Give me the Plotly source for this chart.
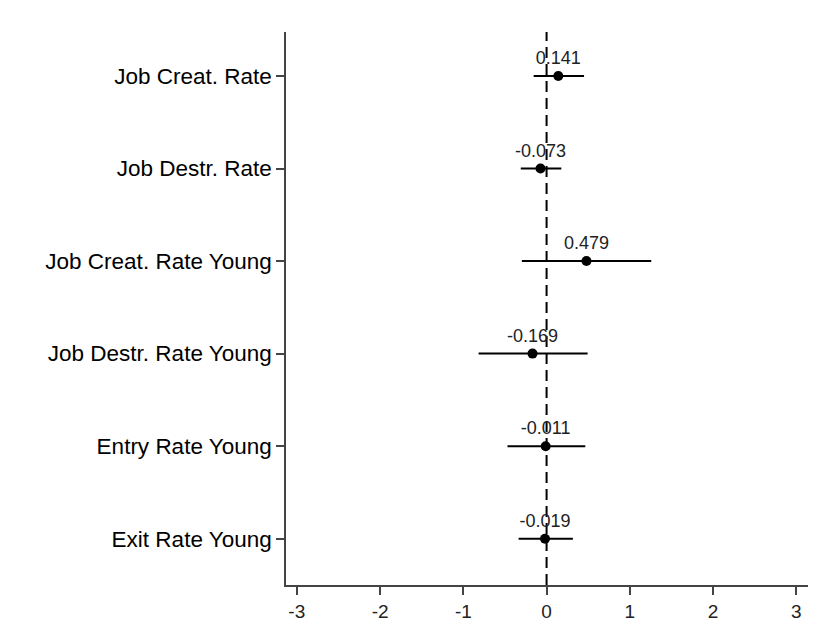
import plotly.graph_objects as go

labels = ["Job Creat. Rate", "Job Destr. Rate", "Job Creat. Rate Young",
          "Job Destr. Rate Young", "Entry Rate Young", "Exit Rate Young"]
coef = [0.141, -0.073, 0.479, -0.169, -0.011, -0.019]
ci_low = [-0.155, -0.31, -0.297, -0.817, -0.47, -0.336]
ci_high = [0.45, 0.177, 1.257, 0.493, 0.465, 0.316]
coef_text = ["0.141", "-0.073", "0.479", "-0.169", "-0.011", "-0.019"]
x_ticks = [-3, -2, -1, 0, 1, 2, 3]
x_ticktext = ["-3", "-2", "-1", "0", "1", "2", "3"]

ypos = list(range(1, len(labels) + 1))
err_plus = [h - c for h, c in zip(ci_high, coef)]
err_minus = [c - l for c, l in zip(coef, ci_low)]

fig = go.Figure()
fig.add_shape(type="line", x0=0, x1=0, xref="x", y0=0, y1=1, yref="paper",
              line=dict(color="black", width=2, dash="11px,6px"), layer="below")
fig.add_trace(go.Scatter(
    x=coef, y=ypos, mode="markers+text",
    marker=dict(color="black", size=10),
    error_x=dict(type="data", symmetric=False, array=err_plus, arrayminus=err_minus,
                 color="black", thickness=2, width=0),
    text=coef_text, textposition="top center",
    textfont=dict(family="Liberation Sans, Arial", size=18, color="#222"),
    cliponaxis=False, showlegend=False,
))

fig.update_layout(
    width=827, height=636,
    margin=dict(l=286, r=19, t=32, b=51),
    plot_bgcolor="white", paper_bgcolor="white",
    font=dict(family="Liberation Sans, Arial", color="black"),
    xaxis=dict(range=[-3.13, 3.14], tickvals=x_ticks, ticktext=x_ticktext,
               ticks="outside", ticklen=8,
               tickwidth=1.5, tickcolor="#444", showline=True, linecolor="#444",
               linewidth=1.5, showgrid=False, zeroline=False,
               tickfont=dict(size=19, color="#222")),
    yaxis=dict(range=[6.5, 0.525], tickvals=ypos, ticktext=labels, ticks="outside",
               ticklen=8, tickwidth=1.5, tickcolor="#444", showline=True,
               linecolor="#444", linewidth=1.5, showgrid=False, zeroline=False,
               tickfont=dict(size=22.5, color="black")),
)

fig.write_html("out.html")
